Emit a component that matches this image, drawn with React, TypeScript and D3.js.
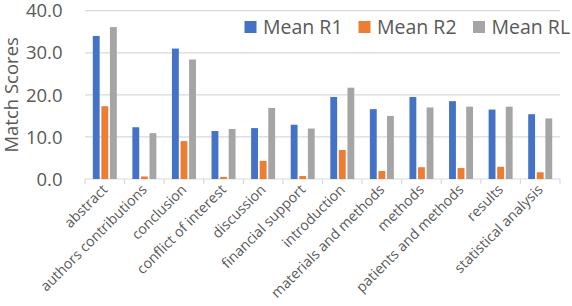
import React from "react";
import * as d3 from "d3";

const categories = [
  "abstract",
  "authors contributions",
  "conclusion",
  "conflict of interest",
  "discussion",
  "financial support",
  "introduction",
  "materials and methods",
  "methods",
  "patients and methods",
  "results",
  "statistical analysis",
];
const meanR1 = [34.0, 12.3, 31.0, 11.4, 12.1, 12.9, 19.5, 16.6, 19.5, 18.5, 16.5, 15.4];
const meanR2 = [17.3, 0.6, 9.0, 0.5, 4.3, 0.7, 6.9, 1.9, 2.8, 2.6, 2.9, 1.6];
const meanRL = [36.1, 10.9, 28.4, 11.9, 16.9, 12.0, 21.7, 15.0, 17.0, 17.2, 17.2, 14.4];
const seriesNames = ["Mean R1", "Mean R2", "Mean RL"];
const seriesColors = ["#4472C4", "#ED7D31", "#A5A5A5"];
const yTicks = [0, 10, 20, 30, 40];

export default function App() {
  const W = 572;
  const H = 306;
  const left = 85;
  const right = 560;
  const top = 10.7;
  const bottom = 179;
  const font = "'Open Sans', sans-serif";
  const textColor = "#595959";
  const gridColor = "#d9d9d9";

  const x = d3.scaleBand<string>().domain(categories).range([left, right]).paddingInner(0).paddingOuter(0);
  const y = d3.scaleLinear().domain([0, 40]).range([bottom, top]);
  const inner = d3.scaleBand<string>().domain(seriesNames).range([-12, 12]).paddingInner(0.2).paddingOuter(0);
  const series = [meanR1, meanR2, meanRL];

  const boundaries = categories.map((c) => x(c) as number).concat([right]);

  return (
    <svg width={W} height={H} style={{ position: "absolute", left: 0, top: 0, background: "#fff" }} fontFamily={font}>
      {/* gridlines */}
      {yTicks.map((t) => (
        <line key={"g" + t} x1={left} x2={right} y1={y(t)} y2={y(t)} stroke={gridColor} strokeWidth={1.2} />
      ))}
      {/* y tick labels */}
      {yTicks.map((t) => (
        <text key={"yt" + t} x={62.5} y={y(t)} dy="0.36em" textAnchor="end" fontSize={18.5} fill={textColor}>
          {t.toFixed(1)}
        </text>
      ))}
      {/* y axis title */}
      <text
        transform={`translate(${17.5},${(top + bottom) / 2}) rotate(-90)`}
        textAnchor="middle"
        fontSize={18.5}
        fill={textColor}
      >
        Match Scores
      </text>
      {/* category tick marks */}
      {boundaries.map((b, i) => (
        <line key={"tk" + i} x1={b} x2={b} y1={bottom} y2={bottom + 5} stroke={gridColor} strokeWidth={1.2} />
      ))}
      {/* bars */}
      {categories.map((c, ci) => (
        <g key={c} transform={`translate(${(x(c) as number) + x.bandwidth() / 2},0)`}>
          {series.map((s, si) => (
            <rect
              key={si}
              x={inner(seriesNames[si]) as number}
              y={y(s[ci])}
              width={inner.bandwidth()}
              height={bottom - y(s[ci])}
              fill={seriesColors[si]}
            />
          ))}
        </g>
      ))}
      {/* x labels */}
      {categories.map((c) => {
        const cx = (x(c) as number) + x.bandwidth() / 2 + 3.5;
        const cy = 190.5;
        return (
          <text
            key={"xl" + c}
            transform={`translate(${cx},${cy}) rotate(-45)`}
            textAnchor="end"
            fontSize={14.2}
            fill={textColor}
          >
            {c}
          </text>
        );
      })}
      {/* legend */}
      {[
        { name: seriesNames[0], sx: 244.5, tx: 263 },
        { name: seriesNames[1], sx: 358.5, tx: 377 },
        { name: seriesNames[2], sx: 473, tx: 491.5 },
      ].map((l, i) => (
        <g key={"lg" + i}>
          <rect x={l.sx} y={21} width={12} height={12} fill={seriesColors[i]} />
          <text x={l.tx} y={33.5} fontSize={19.5} fill={textColor}>
            {l.name}
          </text>
        </g>
      ))}
    </svg>
  );
}
